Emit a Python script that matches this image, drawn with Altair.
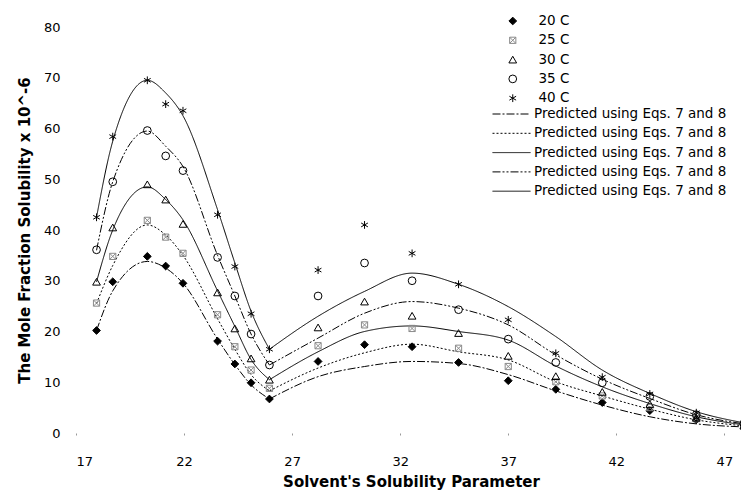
import altair as alt
import pandas as pd

# Solvent solubility parameter values (x positions of the solvents)
x_solvent = [17.95, 18.7, 20.3, 21.15, 21.95, 23.55, 24.35, 25.1, 25.95,
             28.2, 30.35, 32.55, 34.7, 37.0, 39.2, 41.35, 43.55, 45.7, 47.9]
split_index = 8  # the V-shaped minimum where the predicted curves change branch

temps = ["20 C", "25 C", "30 C", "35 C", "40 C"]

# Experimental mole fraction solubility x 10^-6
exp_20 = [20.2, 29.8, 34.8, 32.9, 29.5, 18.1, 13.6, 9.9, 6.7, 14.1, 17.4, 17.0, 13.9, 10.3, 8.6, 6.0, 4.4, 2.6, 0.9]
exp_25 = [25.6, 34.8, 41.9, 38.6, 35.4, 23.3, 17.0, 12.4, 8.8, 17.2, 21.3, 20.6, 16.7, 13.1, 10.1, 7.3, 5.0, 2.8, 1.3]
exp_30 = [29.8, 40.5, 49.0, 46.0, 41.2, 27.7, 20.6, 14.7, 10.5, 20.8, 25.9, 23.1, 19.7, 15.2, 11.2, 8.1, 5.7, 3.0, 1.5]
exp_35 = [36.1, 49.5, 59.6, 54.6, 51.7, 34.6, 27.0, 19.5, 13.4, 27.0, 33.5, 30.0, 24.3, 18.5, 13.9, 9.9, 7.2, 3.6, 1.8]
exp_40 = [42.5, 58.4, 69.5, 64.8, 63.5, 43.0, 32.8, 23.5, 16.5, 32.1, 41.0, 35.4, 29.3, 22.3, 15.7, 11.0, 7.7, 4.0, 2.0]

# Predicted (Eqs. 7 and 8)
pred_keys = ["p20", "p25", "p30", "p35", "p40"]
pred_20 = [20.2, 28.0, 33.8, 32.5, 29.5, 18.5, 13.5, 9.5, 6.7, 11.1, 13.1, 14.1, 13.7, 11.5, 8.3, 5.5, 3.2, 1.8, 1.2]
pred_25 = [25.5, 33.0, 41.0, 39.0, 35.0, 22.5, 16.5, 11.5, 8.3, 12.8, 15.8, 17.5, 16.0, 14.4, 10.1, 7.3, 4.7, 2.6, 1.4]
pred_30 = [29.8, 40.0, 48.5, 46.0, 42.0, 28.0, 21.0, 14.5, 10.5, 16.0, 20.0, 21.1, 20.0, 18.3, 13.2, 9.1, 5.8, 3.2, 1.6]
pred_35 = [36.0, 49.5, 59.5, 56.5, 52.5, 35.0, 27.0, 19.5, 13.4, 18.7, 23.6, 25.9, 24.6, 21.3, 15.4, 10.6, 6.8, 3.6, 1.8]
pred_40 = [42.5, 57.5, 69.5, 67.0, 62.5, 44.0, 33.5, 24.0, 16.5, 23.0, 27.9, 31.5, 29.3, 24.9, 19.0, 12.4, 7.8, 4.2, 2.0]

x_ticks = [17, 22, 27, 32, 37, 42, 47]
y_ticks = [0, 10, 20, 30, 40, 50, 60, 70, 80]
legend_line_label = "Predicted using Eqs. 7 and 8"

exp_rows = []
for t, ys in zip(temps, [exp_20, exp_25, exp_30, exp_35, exp_40]):
    for xv, yv in zip(x_solvent, ys):
        exp_rows.append({"x": xv, "y": yv, "temp": t})
exp_df = pd.DataFrame(exp_rows)

pred_rows = []
for k, ys in zip(pred_keys, [pred_20, pred_25, pred_30, pred_35, pred_40]):
    for i, (xv, yv) in enumerate(zip(x_solvent, ys)):
        if i <= split_index:
            pred_rows.append({"x": xv, "y": yv, "curve": k, "seg": k + "a"})
        if i >= split_index:
            pred_rows.append({"x": xv, "y": yv, "curve": k, "seg": k + "b"})
pred_df = pd.DataFrame(pred_rows)

FONT = "DejaVu Sans"
ASTER = "M0,-1L0,1M-0.87,-0.5L0.87,0.5M-0.87,0.5L0.87,-0.5"
SQX = "M-0.8,-0.8L0.8,-0.8L0.8,0.8L-0.8,0.8ZM-0.8,-0.8L0.8,0.8M-0.8,0.8L0.8,-0.8"

x_enc = alt.X("x:Q",
              scale=alt.Scale(domain=[17, 48], nice=False, zero=False),
              axis=alt.Axis(values=x_ticks, title="Solvent's Solubility Parameter",
                            grid=False, domain=False, ticks=True, tickSize=2,
                            tickColor="#999999", labelPadding=20, titlePadding=6))
y_enc = alt.Y("y:Q",
              scale=alt.Scale(domain=[0, 80], nice=False),
              axis=alt.Axis(values=y_ticks, title="The Mole Fraction Solubility x 10^-6",
                            grid=False, domain=False, ticks=False, labelPadding=16,
                            titlePadding=11))

leg1 = alt.Legend(title=None, orient="none", legendX=430, legendY=-12,
                  labelFontSize=13.5, labelFont=FONT, labelColor="black", labelLimit=400,
                  symbolSize=60, symbolStrokeWidth=1, labelOffset=19,
                  rowPadding=5.3, clipHeight=12, padding=0)
leg2 = alt.Legend(title=None, orient="none", legendX=416, legendY=81,
                  labelExpr="'" + legend_line_label + "'",
                  labelFontSize=13.5, labelFont=FONT, labelColor="black", labelLimit=400,
                  symbolType="stroke", symbolSize=1444, symbolStrokeColor="black",
                  symbolStrokeWidth=1, labelOffset=3, rowPadding=5.3,
                  clipHeight=12, padding=0)

lines = alt.Chart(pred_df).mark_line(color="black", strokeWidth=1, interpolate="monotone").encode(
    x=x_enc, y=y_enc,
    strokeDash=alt.StrokeDash("curve:N",
                              scale=alt.Scale(domain=pred_keys,
                                              range=[[8, 2, 2, 2], [2, 2], [1, 0], [8, 2, 2, 2, 2, 2], [1, 0]]),
                              legend=leg2),
    detail="seg:N",
)

points = alt.Chart(exp_df).mark_point(size=60, strokeWidth=1, opacity=1).encode(
    x=x_enc, y=y_enc,
    shape=alt.Shape("temp:N", scale=alt.Scale(domain=temps,
                    range=["diamond", SQX, "triangle-up", "circle", ASTER]), legend=leg1),
    fill=alt.Fill("temp:N", scale=alt.Scale(domain=temps,
                  range=["black", "transparent", "transparent", "transparent", "transparent"]), legend=leg1),
    stroke=alt.Stroke("temp:N", scale=alt.Scale(domain=temps,
                      range=["black", "#8a8a8a", "black", "black", "black"]), legend=leg1),
)

chart = alt.layer(lines, points).properties(
    width=670, height=406,
    autosize=alt.AutoSizeParams(type="none"),
    padding={"left": 68, "top": 19, "right": -5, "bottom": 59},
    background="white",
).configure_view(stroke=None).configure_axis(
    labelFont=FONT, labelFontSize=13, labelColor="black",
    titleFont=FONT, titleFontSize=15, titleFontWeight="bold", titleColor="black",
)

chart.save("out.html", embed_options={"renderer": "svg", "actions": False})
